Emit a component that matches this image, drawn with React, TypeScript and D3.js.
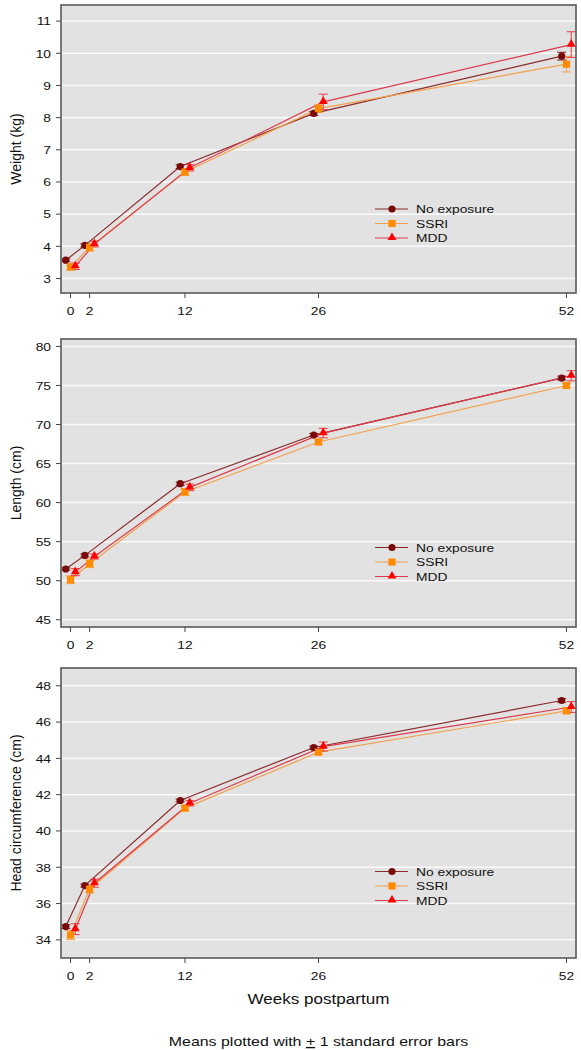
import React from "react";
import * as d3 from "d3";

const weeks = [0, 2, 12, 26, 52];
const seriesNames = ["No exposure", "SSRI", "MDD"];
const weekOffsets = [-0.5, 0, 0.5];

const weightNoExp = [3.57, 4.03, 6.48, 8.13, 9.91];
const weightSSRI = [3.36, 3.97, 6.31, 8.28, 9.66];
const weightMDD = [3.38, 4.07, 6.44, 8.49, 10.27];
const weightSeNoExp = [0.04, 0.05, 0.06, 0.06, 0.12];
const weightSeSSRI = [0.1, 0.12, 0.1, 0.12, 0.24];
const weightSeMDD = [0.1, 0.09, 0.1, 0.24, 0.4];

const lengthNoExp = [51.5, 53.24, 62.42, 68.65, 75.95];
const lengthSSRI = [50.13, 52.18, 61.36, 67.76, 75.0];
const lengthMDD = [51.1, 53.1, 61.95, 68.9, 76.25];
const lengthSeNoExp = [0.15, 0.2, 0.2, 0.2, 0.25];
const lengthSeSSRI = [0.5, 0.5, 0.42, 0.3, 0.3];
const lengthSeMDD = [0.45, 0.32, 0.42, 0.6, 0.65];

const headNoExp = [34.73, 36.99, 41.68, 44.6, 47.19];
const headSSRI = [34.27, 36.79, 41.26, 44.34, 46.62];
const headMDD = [34.59, 37.12, 41.53, 44.65, 46.83];
const headSeNoExp = [0.1, 0.08, 0.07, 0.08, 0.1];
const headSeSSRI = [0.25, 0.2, 0.15, 0.12, 0.15];
const headSeMDD = [0.3, 0.22, 0.15, 0.25, 0.3];

const weightTicks = [3, 4, 5, 6, 7, 8, 9, 10, 11];
const lengthTicks = [45, 50, 55, 60, 65, 70, 75, 80];
const headTicks = [34, 36, 38, 40, 42, 44, 46, 48];

const markerColors = ["#7a0a0a", "#ff8c00", "#ff0000"];
const lineColors = ["#8b2a2a", "#f2a04e", "#dc3c4c"];
const errColors = ["#7a0a0a", "#f7993a", "#e8323c"];

const SX = 1.17; // horizontal stretch of the original picture
const FONT = "Liberation Sans, Arial, sans-serif";

const X0 = 61;
const X1 = 576;
const xScale = d3.scaleLinear().domain([-1, 53]).range([X0, X1]);

function Marker({ kind, x, y, color }) {
  if (kind === 0) return <circle cx={x} cy={y} r={3.6} fill={color} />;
  if (kind === 1)
    return <rect x={x - 3.6} y={y - 3.6} width={7.2} height={7.2} fill={color} />;
  const tri = d3.symbol().type(d3.symbolTriangle).size(34)();
  return <path d={tri} transform={`translate(${x},${y - 0.5})`} fill={color} />;
}

function HText({ x, y, children, size, anchor = "start", dy = undefined }) {
  return (
    <text
      transform={`translate(${x},${y}) scale(${SX},1)`}
      fontSize={size}
      fontFamily={FONT}
      textAnchor={anchor}
      dy={dy}
      fill="#111"
    >
      {children}
    </text>
  );
}

function Panel({ top, bottom, domain, ticks, label, values, ses, legendY }) {
  const y = d3.scaleLinear().domain(domain).range([bottom, top]);
  const line = d3
    .line<[number, number]>()
    .x((d) => d[0])
    .y((d) => d[1]);
  return (
    <g>
      <rect x={X0} y={top} width={X1 - X0} height={bottom - top} fill="#e2e2e2" />
      {ticks.map((t) => (
        <line key={"g" + t} x1={X0} x2={X1} y1={y(t)} y2={y(t)} stroke="#fbfbfb" strokeWidth={1.5} />
      ))}
      {values.map((vals, si) => (
        <path
          key={"l" + si}
          d={line(weeks.map((w, i) => [xScale(w + weekOffsets[si]), y(vals[i])]))}
          fill="none"
          stroke={lineColors[si]}
          strokeWidth={1.2}
        />
      ))}
      {values.map((vals, si) =>
        weeks.map((w, i) => {
          const cx = xScale(w + weekOffsets[si]);
          const yt = y(vals[i] + ses[si][i]);
          const yb = y(vals[i] - ses[si][i]);
          return (
            <g key={"e" + si + "-" + i} stroke={errColors[si]} strokeWidth={1.1} opacity={0.85}>
              <line x1={cx} x2={cx} y1={yt} y2={yb} />
              <line x1={cx - 4.5} x2={cx + 4.5} y1={yt} y2={yt} />
              <line x1={cx - 4.5} x2={cx + 4.5} y1={yb} y2={yb} />
            </g>
          );
        })
      )}
      {values.map((vals, si) =>
        weeks.map((w, i) => (
          <Marker key={"m" + si + "-" + i} kind={si} x={xScale(w + weekOffsets[si])} y={y(vals[i])} color={markerColors[si]} />
        ))
      )}
      {seriesNames.map((name, si) => {
        const ly = legendY + si * 14.5;
        return (
          <g key={"lg" + si}>
            <line x1={375} x2={408} y1={ly} y2={ly} stroke={lineColors[si]} strokeWidth={1.2} />
            <Marker kind={si} x={392} y={ly} color={markerColors[si]} />
            <HText x={416} y={ly} size={11.8} dy="0.36em">
              {name}
            </HText>
          </g>
        );
      })}
      <rect x={X0} y={top} width={X1 - X0} height={bottom - top} fill="none" stroke="#595959" strokeWidth={1.6} />
      {ticks.map((t) => (
        <g key={"yt" + t}>
          <line x1={X0 - 5} x2={X0} y1={y(t)} y2={y(t)} stroke="#444" strokeWidth={1} />
          <HText x={X0 - 10} y={y(t)} size={11.8} anchor="end" dy="0.36em">
            {t}
          </HText>
        </g>
      ))}
      {weeks.map((w) => (
        <g key={"xt" + w}>
          <line x1={xScale(w)} x2={xScale(w)} y1={bottom} y2={bottom + 5} stroke="#444" strokeWidth={1} />
          <HText x={xScale(w)} y={bottom + 21.5} size={11.8} anchor="middle">
            {w}
          </HText>
        </g>
      ))}
      <text
        transform={`translate(${16},${(top + bottom) / 2}) rotate(-90)`}
        fontSize={14}
        fontFamily={FONT}
        textAnchor="middle"
        dy="0.35em"
        fill="#111"
      >
        {label}
      </text>
    </g>
  );
}

export default function App() {
  return (
    <div style={{ position: "absolute", left: 0, top: 0 }}>
      <svg width={581} height={1050} style={{ display: "block", background: "#fff" }}>
        <Panel
          top={5}
          bottom={293}
          domain={[2.55, 11.5]}
          ticks={weightTicks}
          label="Weight (kg)"
          values={[weightNoExp, weightSSRI, weightMDD]}
          ses={[weightSeNoExp, weightSeSSRI, weightSeMDD]}
          legendY={209}
        />
        <Panel
          top={339}
          bottom={627}
          domain={[44.07, 80.95]}
          ticks={lengthTicks}
          label="Length (cm)"
          values={[lengthNoExp, lengthSSRI, lengthMDD]}
          ses={[lengthSeNoExp, lengthSeSSRI, lengthSeMDD]}
          legendY={547.5}
        />
        <Panel
          top={668}
          bottom={958}
          domain={[33, 48.98]}
          ticks={headTicks}
          label="Head circumference (cm)"
          values={[headNoExp, headSSRI, headMDD]}
          ses={[headSeNoExp, headSeSSRI, headSeMDD]}
          legendY={871.5}
        />
        <HText x={318.5} y={1003.5} size={14.6} anchor="middle">
          Weeks postpartum
        </HText>
        <HText x={318.5} y={1046} size={13.6} anchor="middle">
          Means plotted with{" "}
          <tspan style={{ textDecoration: "underline" }}>+</tspan> 1 standard error bars
        </HText>
      </svg>
    </div>
  );
}
